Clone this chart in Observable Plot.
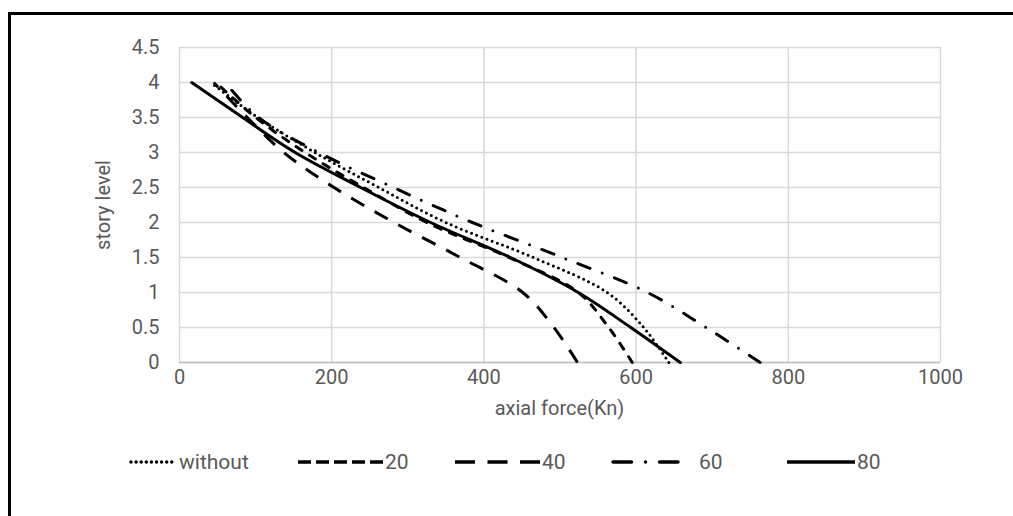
<!DOCTYPE html>
<html>
<head>
<meta charset="utf-8">
<script src="https://cdn.jsdelivr.net/npm/d3@7"></script>
<script src="https://cdn.jsdelivr.net/npm/@observablehq/plot@0.6"></script>
<style>
  html, body { margin: 0; padding: 0; background: #fff; overflow: hidden; }
  #wrap { position: relative; width: 1013px; height: 516px; overflow: hidden; font-family: "Roboto", sans-serif; color: #595959; }
  #border { position: absolute; left: 0; top: 0; }
  #chart { position: absolute; left: 0; top: 0; }
  #legend { position: absolute; left: 0; top: 448px; }
  .title { position: absolute; font-size: 20px; white-space: nowrap; line-height: 1; }
  #xtitle { left: 0; width: 1119px; text-align: center; top: 398px; }
  #ytitle { left: 103px; top: 205px; transform: translate(-50%, -50%) rotate(-90deg); }
</style>
</head>
<body>
<div id="wrap">
  <svg id="border" width="1013" height="516"><path d="M9.5,516V13.5H1013" fill="none" stroke="#000" stroke-width="3"/></svg>
  <div id="chart"></div>
  <div id="xtitle" class="title"></div>
  <div id="ytitle" class="title"></div>
  <div id="legend"></div>
</div>
<script>
// ---- data ----
const levels = [0, 0.5, 1, 1.5, 2, 2.5, 3, 3.5, 4];
const seriesNames = ["without", "20", "40", "60", "80"];
const forceWithout = [643, 610, 562, 465, 350, 262, 178, 103, 41];
const force20 = [595, 564, 524, 433, 325, 242, 165, 100, 48];
const force40 = [523, 492, 451, 369, 282, 203, 137, 89, 45];
const force60 = [763, 692, 615, 503, 385, 281, 183, 104, 60];
const force80 = [658, 593, 524, 435, 330, 238, 152, 83, 16];
const xTicks = [0, 200, 400, 600, 800, 1000];
const yTicks = [0, 0.5, 1, 1.5, 2, 2.5, 3, 3.5, 4, 4.5];
const xTitle = "axial force(Kn)";
const yTitle = "story level";

const seriesValues = [forceWithout, force20, force40, force60, force80];
const dashes = {
  "without": "0 5.5",
  "20": "7 9",
  "40": "15 12",
  "60": "13 13 0 13",
  "80": null
};
const caps = { "without": "round", "20": "round", "40": "butt", "60": "round", "80": "round" };
const legendDashes = {
  "without": { dash: "0 5.1", cap: "round" },
  "20": { dash: "13 5", cap: "butt" },
  "40": { dash: "20 12.5", cap: "butt" },
  "60": { dash: "18.5 14 0 14", cap: "round" },
  "80": { dash: null, cap: "butt" }
};

const rows = [];
seriesNames.forEach((name, i) => {
  levels.forEach((lv, j) => rows.push({ series: name, level: lv, force: seriesValues[i][j] }));
});

const textColor = "#595959";
const gridColor = "#d9d9d9";

const lineMarks = seriesNames.map(name =>
  Plot.line(rows.filter(r => r.series === name), {
    x: "force", y: "level", curve: "catmull-rom",
    stroke: "#000", strokeWidth: 3,
    strokeDasharray: dashes[name] || undefined,
    strokeLinecap: caps[name], strokeLinejoin: "round"
  })
);

const chart = Plot.plot({
  width: 1013, height: 516,
  marginLeft: 179, marginRight: 73, marginTop: 47, marginBottom: 154,
  style: { fontFamily: '"Roboto", sans-serif', fontSize: "20px", color: textColor, background: "transparent" },
  x: { domain: [0, 1000] },
  y: { domain: [0, 4.5] },
  marks: [
    Plot.gridX(xTicks, { stroke: gridColor, strokeOpacity: 1, strokeWidth: 1.5 }),
    Plot.gridY(yTicks, { stroke: gridColor, strokeOpacity: 1, strokeWidth: 1.5 }),
    Plot.ruleY([0], { stroke: "#bfbfbf", strokeWidth: 1.5 }),
    Plot.axisX(xTicks, { tickSize: 0, tickPadding: 7, fill: textColor, fontSize: 20,
      tickFormat: d => String(d), label: null }),
    Plot.axisY(yTicks, { tickSize: 0, tickPadding: 20, fill: textColor, fontSize: 20,
      tickFormat: d => String(d), label: null }),
    ...lineMarks
  ]
});
document.getElementById("chart").appendChild(chart);
document.getElementById("xtitle").textContent = xTitle;
document.getElementById("ytitle").textContent = yTitle;

// ---- legend ----
const legendItems = [
  { name: "without", x0: 131, x1: 172, tx: 179 },
  { name: "20", x0: 298, x1: 383, tx: 385 },
  { name: "40", x0: 455, x1: 540, tx: 542 },
  { name: "60", x0: 613, x1: 679, tx: 699 },
  { name: "80", x0: 787, x1: 855, tx: 857 }
];
const ns = "http://www.w3.org/2000/svg";
const lsvg = document.createElementNS(ns, "svg");
lsvg.setAttribute("width", 1013);
lsvg.setAttribute("height", 30);
legendItems.forEach(it => {
  const ln = document.createElementNS(ns, "line");
  ln.setAttribute("x1", it.x0); ln.setAttribute("x2", it.x1);
  ln.setAttribute("y1", 14); ln.setAttribute("y2", 14);
  ln.setAttribute("stroke", "#000");
  ln.setAttribute("stroke-width", 3.5);
  ln.setAttribute("stroke-linecap", legendDashes[it.name].cap);
  if (legendDashes[it.name].dash) ln.setAttribute("stroke-dasharray", legendDashes[it.name].dash);
  lsvg.appendChild(ln);
  const tx = document.createElementNS(ns, "text");
  tx.setAttribute("x", it.tx); tx.setAttribute("y", 14);
  tx.setAttribute("dy", "0.35em");
  tx.setAttribute("fill", textColor);
  tx.setAttribute("font-size", 21);
  tx.setAttribute("font-family", '"Roboto", sans-serif');
  tx.textContent = it.name;
  lsvg.appendChild(tx);
});
document.getElementById("legend").appendChild(lsvg);
</script>
</body>
</html>
